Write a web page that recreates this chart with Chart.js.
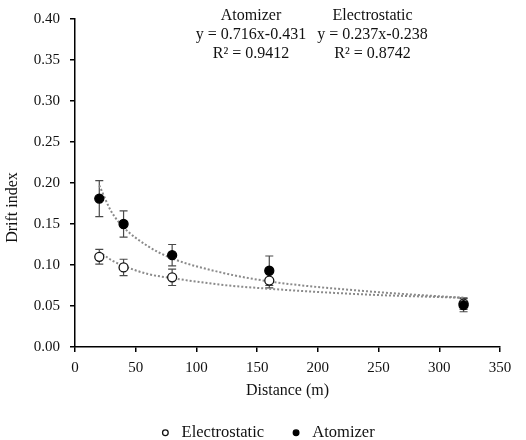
<!DOCTYPE html>
<html>
<head>
<meta charset="utf-8">
<script src="https://cdn.jsdelivr.net/npm/chart.js@4.4.1/dist/chart.umd.min.js"></script>
<style>
  html, body { margin: 0; padding: 0; background: #fff; }
  #wrap { width: 526px; height: 440px; }
</style>
</head>
<body>
<div id="wrap"><canvas id="c" width="526" height="440"></canvas></div>
<script>
// ---- data ----
const distance = [20, 40, 80, 160, 320];
const electrostatic = [0.110, 0.097, 0.085, 0.081, 0.053];
const electrostaticErr = [0.009, 0.010, 0.010, 0.009, 0.007];
const atomizer = [0.181, 0.150, 0.112, 0.093, 0.051];
const atomizerErr = [0.022, 0.016, 0.013, 0.018, 0.008];

// trend curves
const trendX = [20, 30, 40, 60, 80, 120, 160, 240, 320];
const electrostaticTrend = [0.116, 0.106, 0.099, 0.089, 0.084, 0.076, 0.071, 0.064, 0.060];
const atomizerTrend = [0.197, 0.165, 0.146, 0.123, 0.108, 0.091, 0.080, 0.068, 0.060];

const yTicks = [0, 0.05, 0.10, 0.15, 0.20, 0.25, 0.30, 0.35, 0.40];
const xTicks = [0, 50, 100, 150, 200, 250, 300, 350];

const annAtomizer = ['Atomizer', 'y = 0.716x-0.431', 'R² = 0.9412'];
const annElectro = ['Electrostatic', 'y = 0.237x-0.238', 'R² = 0.8742'];
const yTitle = 'Drift index';
const xTitle = 'Distance (m)';

const FONT = '"Liberation Serif", "Times New Roman", serif';
const PAD_LEFT = 32;
const PAD_BOTTOM = -11;

const pts = (xs, ys) => xs.map((x, i) => ({ x: x, y: ys[i] }));

const errorBars = {
  id: 'errorBars',
  beforeDatasetsDraw(chart) {
    const ctx = chart.ctx;
    const xs = chart.scales.x, ys = chart.scales.y;
    const sets = [[electrostatic, electrostaticErr], [atomizer, atomizerErr]];
    ctx.save();
    ctx.strokeStyle = '#4a4a4a';
    ctx.lineWidth = 1.2;
    sets.forEach(([vals, errs]) => {
      vals.forEach((v, i) => {
        const px = xs.getPixelForValue(distance[i]);
        const top = ys.getPixelForValue(v + errs[i]);
        const bot = ys.getPixelForValue(v - errs[i]);
        ctx.beginPath();
        ctx.moveTo(px, top); ctx.lineTo(px, bot);
        ctx.moveTo(px - 4, top); ctx.lineTo(px + 4, top);
        ctx.moveTo(px - 4, bot); ctx.lineTo(px + 4, bot);
        ctx.stroke();
      });
    });
    ctx.restore();
  }
};

const texts = {
  id: 'texts',
  afterDraw(chart) {
    const ctx = chart.ctx;
    ctx.save();
    ctx.fillStyle = '#111';
    ctx.textAlign = 'center';
    ctx.textBaseline = 'middle';
    ctx.font = '16px ' + FONT;
    const ys = [16, 34.5, 53.5];
    annAtomizer.forEach((t, i) => ctx.fillText(t, 251, ys[i]));
    annElectro.forEach((t, i) => ctx.fillText(t, 372.5, ys[i]));
    // y axis title
    ctx.font = '16px ' + FONT;
    ctx.translate(13, 207.5);
    ctx.rotate(-Math.PI / 2);
    ctx.fillText(yTitle, 0, 0);
    ctx.restore();
  }
};

new Chart(document.getElementById('c'), {
  type: 'scatter',
  data: {
    datasets: [
      {
        label: 'Electrostatic',
        data: pts(distance, electrostatic),
        pointStyle: 'circle',
        pointRadius: 4.5,
        pointBorderWidth: 1.3,
        pointBackgroundColor: '#ffffff',
        pointBorderColor: '#111111',
        backgroundColor: '#ffffff',
        borderColor: '#111111',
        order: 1
      },
      {
        label: 'Atomizer',
        data: pts(distance, atomizer),
        pointStyle: 'circle',
        pointRadius: 4.5,
        pointBorderWidth: 1.3,
        pointBackgroundColor: '#000000',
        pointBorderColor: '#000000',
        backgroundColor: '#000000',
        borderColor: '#000000',
        order: 0
      },
      {
        label: 'trend-e',
        data: pts(trendX, electrostaticTrend),
        showLine: true,
        pointRadius: 0,
        borderColor: '#8a8a8a',
        borderWidth: 2,
        borderDash: [2, 2],
        cubicInterpolationMode: 'monotone',
        order: 2
      },
      {
        label: 'trend-a',
        data: pts(trendX, atomizerTrend),
        showLine: true,
        pointRadius: 0,
        borderColor: '#8a8a8a',
        borderWidth: 2,
        borderDash: [2, 2],
        cubicInterpolationMode: 'monotone',
        order: 2
      }
    ]
  },
  options: {
    responsive: false,
    animation: false,
    devicePixelRatio: 1,
    layout: { padding: { left: PAD_LEFT, right: 26, top: 19, bottom: PAD_BOTTOM } },
    plugins: {
      tooltip: { enabled: false },
      legend: {
        position: 'bottom',
        labels: {
          filter: (item) => item.text === 'Electrostatic' || item.text === 'Atomizer',
          sort: (a, b) => a.datasetIndex - b.datasetIndex,
          usePointStyle: true,
          boxWidth: 16,
          boxHeight: 4,
          padding: 24,
          color: '#111',
          font: { family: FONT, size: 16.5 }
        }
      }
    },
    scales: {
      x: {
        type: 'linear',
        min: 0, max: 350,
        afterBuildTicks: (s) => { s.ticks = xTicks.map(v => ({ value: v })); },
        afterFit: (s) => {
          const lh = s.chart.legend ? s.chart.legend.height : 50;
          s.height = 440 - PAD_BOTTOM - 347 - lh;
        },
        ticks: { color: '#111', font: { family: FONT, size: 15 }, padding: 7, maxRotation: 0 },
        grid: { drawOnChartArea: false, drawTicks: true, tickLength: 5, color: '#000', lineWidth: 1.5 },
        border: { color: '#000', width: 1.5 },
        title: { display: true, text: xTitle, color: '#111', font: { family: FONT, size: 16 }, padding: { top: 2, bottom: 0 } }
      },
      y: {
        type: 'linear',
        min: 0, max: 0.4,
        afterBuildTicks: (s) => { s.ticks = yTicks.map(v => ({ value: v })); },
        afterFit: (s) => { s.width = 75 - PAD_LEFT; },
        ticks: { color: '#111', font: { family: FONT, size: 15 }, padding: 10, callback: (v) => Number(v).toFixed(2) },
        grid: { drawOnChartArea: false, drawTicks: true, tickLength: 5, color: '#000', lineWidth: 1.5 },
        border: { color: '#000', width: 1.5 }
      }
    }
  },
  plugins: [errorBars, texts]
});
</script>
</body>
</html>
